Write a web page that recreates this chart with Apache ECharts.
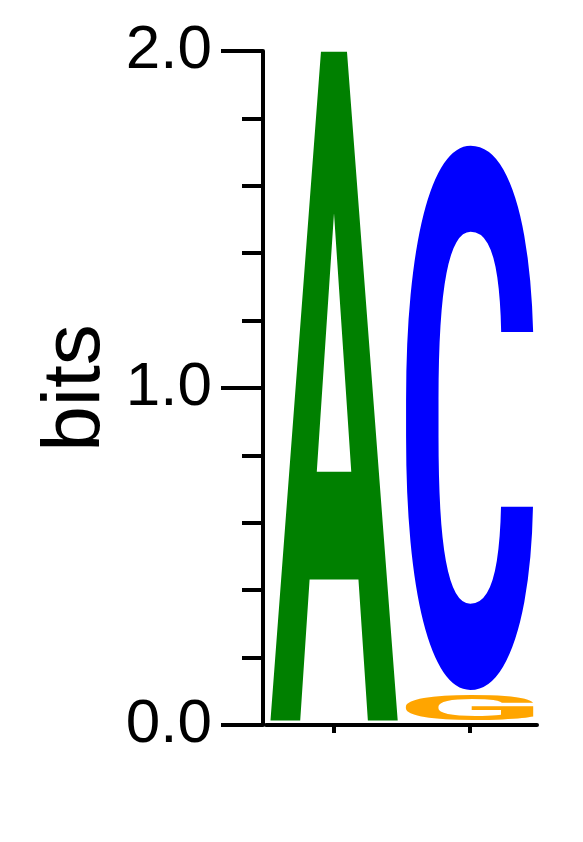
<!DOCTYPE html>
<html>
<head>
<meta charset="utf-8">
<script src="https://cdn.jsdelivr.net/npm/echarts@6/dist/echarts.min.js"></script>
<style>
html,body{margin:0;padding:0;background:#fff;}
#chart{width:583px;height:842px;}
</style>
</head>
<body>
<div id="chart"></div>
<script>
// ---- data ----
const columns = ['1', '2'];
const letters = ['A', 'G', 'C'];
const letterColumn = [0, 1, 1];
const letterHeight = [2.0, 0.09, 1.627];
const yTickValues = [0, 1, 2];

// ---- styles ----
const letterColors = { A: '#008000', C: '#0000ff', G: '#ffa500', T: '#ff0000' };
const LETTER_FONT_FAMILY = 'Roboto, "Liberation Sans", Arial, sans-serif';
const LETTER_FONT = 'bold 600px ' + LETTER_FONT_FAMILY;

// build stacked items: [col, base, height, letterIndex]
const stackBase = columns.map(() => 0);
const items = letters.map((ch, i) => {
  const c = letterColumn[i];
  const b = stackBase[c];
  stackBase[c] += letterHeight[i];
  return [c, b, letterHeight[i], i];
});

// measure glyph ink boxes by rasterizing
const MC = 1000, OX = 150, OY = 500;
const mcanvas = document.createElement('canvas');
mcanvas.width = MC; mcanvas.height = MC;
const mctx = mcanvas.getContext('2d');
const inkCache = {};
function ink(ch) {
  if (inkCache[ch]) return inkCache[ch];
  mctx.clearRect(0, 0, MC, MC);
  mctx.font = LETTER_FONT;
  mctx.textAlign = 'left';
  mctx.textBaseline = 'middle';
  mctx.fillStyle = '#000';
  mctx.fillText(ch, OX, OY);
  const d = mctx.getImageData(0, 0, MC, MC).data;
  let minX = MC, maxX = -1, minY = MC, maxY = -1;
  for (let y = 0; y < MC; y++) {
    for (let x = 0; x < MC; x++) {
      if (d[(y * MC + x) * 4 + 3] >= 128) {
        if (x < minX) minX = x;
        if (x > maxX) maxX = x;
        if (y < minY) minY = y;
        if (y > maxY) maxY = y;
      }
    }
  }
  const r = { left: minX - OX, right: maxX + 1 - OX, top: minY - OY, bottom: maxY + 1 - OY };
  inkCache[ch] = r;
  return r;
}

const chart = echarts.init(document.getElementById('chart'), null, { renderer: 'canvas' });

function renderItem(params, api) {
  const col = api.value(0);
  const base = api.value(1);
  const h = api.value(2);
  const ch = letters[api.value(3)];
  const pBot = api.coord([col, base]);
  const pTop = api.coord([col, base + h]);
  const bw = api.size([1, 0])[0];
  const x0 = pBot[0] - bw / 2 + 4.5;
  const x1 = pBot[0] + bw / 2 - 4;
  const yTop = pTop[1];
  const yBot = pBot[1] - 4.5;
  const b = ink(ch);
  const sx = (x1 - x0) / (b.right - b.left);
  const sy = (yBot - yTop) / (b.bottom - b.top);
  return {
    type: 'text',
    x: x0 - b.left * sx,
    y: yTop - b.top * sy,
    scaleX: sx,
    scaleY: sy,
    silent: true,
    style: {
      text: ch,
      font: LETTER_FONT,
      fill: letterColors[ch],
      align: 'left',
      verticalAlign: 'middle',
      textAlign: 'left',
      textVerticalAlign: 'middle'
    }
  };
}

const option = {
  animation: false,
  backgroundColor: '#ffffff',
  grid: { left: 266, top: 51, width: 271, height: 674, containLabel: false },
  xAxis: {
    type: 'category',
    data: columns,
    boundaryGap: true,
    axisLine: { show: true, lineStyle: { color: '#000', width: 4 } },
    axisTick: { show: true, alignWithLabel: true, length: 8, lineStyle: { color: '#000', width: 4 } },
    axisLabel: { show: false },
    splitLine: { show: false }
  },
  yAxis: {
    type: 'value',
    min: 0,
    max: 2,
    interval: 1,
    offset: 3,
    name: 'bits',
    nameLocation: 'middle',
    nameRotate: 90,
    nameGap: 146,
    nameTextStyle: { fontSize: 82, color: '#000', fontFamily: 'Liberation Sans, Arial, sans-serif' },
    axisLine: { show: true, lineStyle: { color: '#000', width: 4 } },
    axisTick: { show: true, length: 42, lineStyle: { color: '#000', width: 4 } },
    minorTick: { show: true, splitNumber: 5, length: 21, lineStyle: { color: '#000', width: 4 } },
    axisLabel: {
      show: true,
      margin: 51,
      fontSize: 62,
      color: '#000',
      fontFamily: 'Liberation Sans, Arial, sans-serif',
      formatter: v => (yTickValues.indexOf(v) >= 0 ? v.toFixed(1) : '')
    },
    splitLine: { show: false },
    minorSplitLine: { show: false }
  },
  series: [{
    type: 'custom',
    renderItem: renderItem,
    data: items,
    silent: true,
    clip: false,
    encode: { x: 0, y: [1, 2] }
  }]
};
chart.setOption(option);
</script>
</body>
</html>
